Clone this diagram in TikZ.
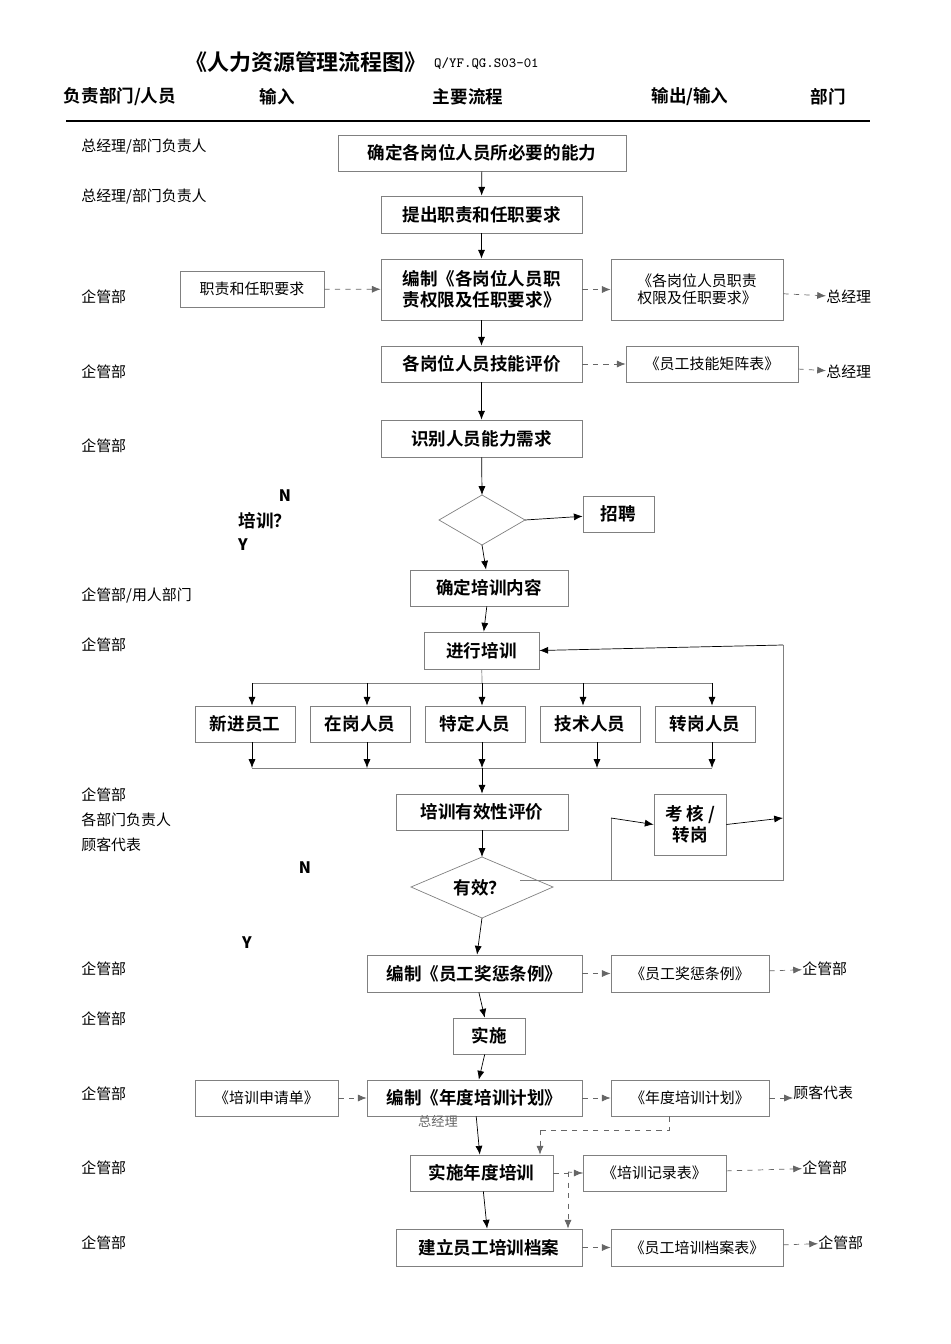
\documentclass[tikz,border=0pt]{standalone}
\usepackage{fontspec}
\setmainfont{Noto Sans CJK SC}
\newfontfamily\cjkb{Noto Sans CJK SC Bold}
\usetikzlibrary{arrows.meta}
\newcommand\bx[7][mb]{\node[#1,minimum width={(#5-#3)*0.02cm},minimum height={(#6-#4)*0.02cm}] (#2) at ({(#3+#5)/2},{(#4+#6)/2}) {#7};}
\newcommand\lb[3]{\node[lab] (#1) at (81,#2) {#3};}
\begin{document}
\begin{tikzpicture}[x=0.02cm,y=-0.02cm,
 mb/.style={draw=black!50,inner sep=1pt,font=\cjkb\fontsize{10}{12}\selectfont,align=center},
 ob/.style={draw=black!50,inner sep=1pt,font=\fontsize{8.5}{10}\selectfont,align=center},
 lab/.style={font=\fontsize{8.5}{10}\selectfont,anchor=west,inner sep=0pt},
 hd/.style={font=\cjkb\fontsize{10}{12}\selectfont},
 ar/.style={-{Latex[length=5pt,width=4pt]},black},
 da/.style={-{Latex[length=5pt,width=4pt]},black!60,dashed}]
\useasboundingbox (0,0) rectangle (950,1344);
\node[font=\cjkb\fontsize{12.5}{14}\selectfont] (title) at (306,62) {《人力资源管理流程图》};
\node[font=\ttfamily\fontsize{8}{10}\selectfont,anchor=west] (code) at (428,64) {Q/YF.QG.S03-01};
\node[hd] (h1) at (120,97) {负责部门/人员};
\node[hd] (h2) at (277,97) {输入};
\node[hd] (h3) at (468,97) {主要流程};
\node[hd] (h4) at (690,97) {输出/输入};
\node[hd] (h5) at (828,97) {部门};
\draw[line width=1pt] (66,121) -- (870,121);
% left labels
\lb{l1}{147}{总经理/部门负责人}
\lb{l2}{197}{总经理/部门负责人}
\lb{l3}{297}{企管部}
\lb{l4}{372}{企管部}
\lb{l5}{446}{企管部}
\lb{l6}{595}{企管部/用人部门}
\lb{l7}{645}{企管部}
\lb{l8}{795}{企管部}
\lb{l9}{820}{各部门负责人}
\lb{l10}{845}{顾客代表}
\lb{l11}{969}{企管部}
\lb{l12}{1019}{企管部}
\lb{l13}{1094}{企管部}
\lb{l14}{1168}{企管部}
\lb{l15}{1243}{企管部}
% main boxes
\bx{b1}{338}{135}{626}{171}{确定各岗位人员所必要的能力}
\bx{b2}{381}{196}{582}{233}{提出职责和任职要求}
\bx{b3}{381}{259}{582}{320}{编制《各岗位人员职\\责权限及任职要求》}
\bx[ob]{i3}{180}{271}{324}{307}{职责和任职要求}
\bx[ob]{o3}{611}{259}{783}{320}{《各岗位人员职责\\权限及任职要求》}
\node[lab] (d3) at (826,297) {总经理};
\bx{b4}{381}{346}{582}{382}{各岗位人员技能评价}
\bx[ob]{o4}{626}{346}{798}{382}{《员工技能矩阵表》}
\node[lab] (d4) at (826,372) {总经理};
\bx{b5}{381}{420}{582}{457}{识别人员能力需求}
\draw[black!50] (482,495) -- (525,520) -- (482,545) -- (439,520) -- cycle;
\coordinate (q1t) at (482,495); \coordinate (q1b) at (482,545); \coordinate (q1r) at (525,520);
\node[hd] (qt) at (265,521) {培训？};
\node[font=\bfseries\small] (qn) at (285,496) {N};
\node[font=\bfseries\small] (qy) at (243,545) {Y};
\bx{zp}{583}{496}{654}{532}{招聘}
\bx{b6}{410}{570}{568}{606}{确定培训内容}
\bx{b7}{424}{632}{539}{669}{进行培训}
\bx{t1}{195}{706}{295}{742}{新进员工}
\bx{t2}{310}{706}{410}{742}{在岗人员}
\bx{t3}{425}{706}{525}{742}{特定人员}
\bx{t4}{540}{706}{640}{742}{技术人员}
\bx{t5}{655}{706}{755}{742}{转岗人员}
\coordinate (bt) at (482,683); \coordinate (bb) at (482,768);
\draw[black!50] (252,683) -- (712,683);
\draw[black!50] (252,768) -- (712,768);
\draw[black!50] (b7) -- (bt);
\foreach \x/\n in {252/t1,367/t2,482/t3,583/t4,712/t5} {
 \draw[ar] (\x,683) -- (\n.north -| \x,0);
}
\foreach \x in {252,367,482,597,712} \draw[ar] (\x,742) -- (\x,768);
\bx{b8}{396}{794}{568}{830}{培训有效性评价}
\draw[black!50] (482,857) -- (553,887) -- (482,918) -- (411,887) -- cycle;
\coordinate (q2t) at (482,857); \coordinate (q2b) at (482,918);
\node[hd] (q2l) at (480,888) {有效？};
\node[font=\bfseries\small] (q2n) at (305,868) {N};
\node[font=\bfseries\small] (q2y) at (247,943) {Y};
\bx{kh}{654}{794}{726}{855}{考 核 /\\转岗}
\coordinate (c1) at (611,880); \coordinate (c2) at (783,880); \coordinate (c3) at (783,645);
\draw[black!50] (520,880) -- (c2) -- (c3);
\draw[ar] (c3) -- (b7.east);
\draw[black!50] (c1) |- (611,818);
\draw[ar] (611,818) -- (kh.west);
\draw[ar] (kh.east) -- (783,818);
\bx{b9}{367}{955}{582}{992}{编制《员工奖惩条例》}
\bx[ob]{o9}{611}{955}{769}{992}{《员工奖惩条例》}
\node[lab] (d9) at (802,969) {企管部};
\bx{b10}{453}{1018}{525}{1054}{实施}
\bx{b11}{367}{1080}{582}{1116}{编制《年度培训计划》}
\bx[ob]{i11}{195}{1080}{338}{1116}{《培训申请单》}
\bx[ob]{o11}{611}{1080}{769}{1116}{《年度培训计划》}
\node[lab] (d11) at (793,1093) {顾客代表};
\node[font=\fontsize{7.5}{9}\selectfont,text=black!60] (zjl) at (438,1121) {总经理};
\bx{b12}{410}{1155}{553}{1191}{实施年度培训}
\bx[ob]{o12}{583}{1155}{726}{1191}{《培训记录表》}
\node[lab] (d12) at (802,1168) {企管部};
\bx{b13}{396}{1229}{582}{1266}{建立员工培训档案}
\bx[ob]{o13}{611}{1229}{783}{1266}{《员工培训档案表》}
\node[lab] (d13) at (818,1243) {企管部};
% main flow
\draw[ar] (b1) -- (b2);
\draw[ar] (b2) -- (b3);
\draw[ar] (b3) -- (b4);
\draw[ar] (b4) -- (b5);
\draw[ar] (b5) -- (q1t);
\draw[ar] (q1r) -- (zp);
\draw[ar] (q1b) -- (b6);
\draw[ar] (b6) -- (b7);
\draw[ar] (bb) -- (b8);
\draw[ar] (b8) -- (q2t);
\draw[ar] (q2b) -- (b9);
\draw[ar] (b9) -- (b10);
\draw[ar] (b10) -- (b11);
\draw[ar] (b11) -- (b12);
\draw[ar] (b12) -- (b13);
% dashed
\draw[da] (i3) -- (b3);
\draw[da] (b3.east |- o3) -- (o3);
\draw[da] (o3) -- (d3);
\draw[da] (b4) -- (o4);
\draw[da] (o4) -- (d4);
\draw[da] (b9.east |- o9) -- (o9);
\draw[da] (o9) -- (d9);
\draw[da] (i11) -- (b11);
\draw[da] (b11) -- (o11);
\draw[da] (o11) -- (d11.west |- o11);
\draw[da] (b12) -- (o12);
\draw[da] (o12) -- (d12);
\draw[da] (b13) -- (o13);
\draw[da] (o13) -- (d13);
\coordinate (e1) at (669,1130); \coordinate (e2) at (540,1130);
\draw[black!60,dashed] (o11.south -| e1) -- (e1) -- (e2);
\draw[da] (e2) -- (b12.north -| e2);
\coordinate (f1) at (568,1172);
\draw[black!60,dashed] (o12.west) -- (f1);
\draw[da] (f1) -- (b13.north -| f1);
\end{tikzpicture}
\end{document}
